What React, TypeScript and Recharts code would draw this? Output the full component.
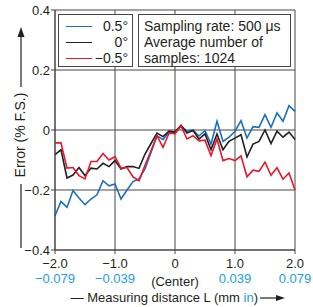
import React from 'react';
import { LineChart, Line, XAxis, YAxis, CartesianGrid } from 'recharts';

// Measuring distance L (mm), one point every 0.1 mm
const distance = [
  -2.0, -1.9, -1.8, -1.7, -1.6, -1.5, -1.4, -1.3, -1.2, -1.1,
  -1.0, -0.9, -0.8, -0.7, -0.6, -0.5, -0.4, -0.3, -0.2, -0.1,
  0.0, 0.1, 0.2, 0.3, 0.4, 0.5, 0.6, 0.7, 0.8, 0.9,
  1.0, 1.1, 1.2, 1.3, 1.4, 1.5, 1.6, 1.7, 1.8, 1.9, 2.0,
];

// Error (% F.S.) for each tilt angle
const tiltPlus = [
  -0.286, -0.238, -0.258, -0.202, -0.227, -0.249, -0.23, -0.216, -0.169, -0.186,
  -0.18, -0.23, -0.2, -0.172, -0.163, -0.13, -0.075, -0.019, -0.032, -0.006,
  -0.01, 0.014, -0.004, 0.0, -0.02, -0.002, -0.047, 0.029, -0.038, -0.024,
  -0.004, 0.031, -0.027, 0.011, 0.009, 0.051, 0.009, 0.057, 0.029, 0.081, 0.062,
];
const tiltZero = [
  -0.082, -0.066, -0.16, -0.15, -0.125, -0.152, -0.127, -0.13, -0.111, -0.122,
  -0.102, -0.13, -0.122, -0.122, -0.128, -0.08, -0.045, -0.01, -0.022, -0.004,
  -0.007, 0.016, -0.01, -0.002, -0.03, -0.013, -0.066, -0.013, -0.066, -0.038,
  -0.027, -0.016, -0.09, -0.047, -0.038, 0.0, -0.045, -0.004, -0.024, -0.007, -0.032,
];
const tiltMinus = [
  -0.043, -0.043, -0.127, -0.125, -0.152, -0.163, -0.105, -0.105, -0.078, -0.1,
  -0.089, -0.127, -0.125, -0.156, -0.169, -0.118, -0.069, -0.019, -0.058, -0.011,
  -0.012, 0.014, -0.03, -0.019, -0.036, -0.034, -0.086, -0.03, -0.102, -0.095,
  -0.102, -0.086, -0.156, -0.134, -0.138, -0.107, -0.151, -0.126, -0.164, -0.143, -0.2,
];

const mmTicks = [-2, -1, 0, 1, 2];
const mmLabels = ['\u22122.0', '\u22121.0', '0', '1.0', '2.0'];
const inchLabels = ['\u22120.079', '\u22120.039', '', '0.039', '0.079'];
const errorTicks = [-0.4, -0.2, 0, 0.2, 0.4];
const errorLabels = ['\u22120.4', '\u22120.2', '0', '0.2', '0.4'];

const seriesNames = ['0.5\u00b0', '0\u00b0', '\u22120.5\u00b0'];
const seriesColors = ['#1b6fc0', '#231f20', '#e8172d'];

const data = distance.map((x, i) => ({
  x,
  plus: tiltPlus[i],
  zero: tiltZero[i],
  minus: tiltMinus[i],
}));

const FONT = '"Liberation Sans", Arial, sans-serif';
const TEXT = '#231f20';
const GRID = '#4a4444';
const INCH = '#22a0e0';

function XTick(props: any) {
  const { x, y, payload } = props;
  const i = mmTicks.indexOf(payload.value);
  return (
    <g fontFamily={FONT} fontSize={13}>
      <text x={x} y={y + 12} textAnchor="middle" fill={TEXT}>{mmLabels[i]}</text>
      <text x={x} y={y + 27} textAnchor="middle" fill={INCH}>{inchLabels[i]}</text>
      {payload.value === 0 && (
        <text x={x} y={y + 30} textAnchor="middle" fill={TEXT}>(Center)</text>
      )}
    </g>
  );
}

function XTitle() {
  return (
    <g fontFamily={FONT} fontSize={13} fill={TEXT}>
      <text x={258} y={302} textAnchor="end">
        {'\u2014 Measuring distance L (mm '}
        <tspan fill={INCH}>in</tspan>
        {')'}
      </text>
      <line x1={260} y1={298} x2={278} y2={298} stroke={TEXT} strokeWidth={1.2} />
      <polygon points="285,298 276,295 276,301" fill={TEXT} />
    </g>
  );
}

function YTitle() {
  return (
    <g fontFamily={FONT} fill={TEXT}>
      <text
        x={20}
        y={135}
        fontSize={14}
        textAnchor="middle"
        dominantBaseline="central"
        transform="rotate(-90 20 135)"
      >
        Error (% F.S.)
      </text>
      <line x1={21} y1={248} x2={21} y2={184} stroke={TEXT} strokeWidth={1.2} />
      <line x1={21} y1={87} x2={21} y2={35} stroke={TEXT} strokeWidth={1.2} />
      <polygon points="21,27 17.5,37 24.5,37" fill={TEXT} />
    </g>
  );
}

const boxStyle: React.CSSProperties = {
  position: 'absolute',
  top: 14,
  height: 51,
  border: `1px solid ${GRID}`,
  background: '#fff',
  fontFamily: FONT,
  fontSize: 14,
  color: TEXT,
  lineHeight: '16px',
  boxSizing: 'content-box',
};

export default function App() {
  return (
    <div style={{ position: 'absolute', left: 0, top: 0, width: 313, height: 307, background: '#fff' }}>
      <LineChart
        width={313}
        height={307}
        data={data}
        margin={{ top: 10, right: 18, bottom: 0, left: 0 }}
      >
        <CartesianGrid stroke={GRID} strokeWidth={1} />
        <XAxis
          dataKey="x"
          type="number"
          domain={[-2, 2]}
          ticks={mmTicks}
          height={57}
          tickSize={4}
          stroke={GRID}
          tick={<XTick />}
          label={{ content: () => <XTitle /> }}
        />
        <YAxis
          type="number"
          domain={[-0.4, 0.4]}
          ticks={errorTicks}
          width={55}
          tickSize={4}
          tickMargin={1}
          stroke={GRID}
          tickFormatter={(v: number) => errorLabels[errorTicks.indexOf(v)] ?? String(v)}
          tick={{ fill: TEXT, fontSize: 13, fontFamily: FONT }}
          label={{ content: () => <YTitle /> }}
        />
        <Line dataKey="plus" stroke={seriesColors[0]} strokeWidth={1.6} dot={false} isAnimationActive={false} />
        <Line dataKey="zero" stroke={seriesColors[1]} strokeWidth={1.6} dot={false} isAnimationActive={false} />
        <Line dataKey="minus" stroke={seriesColors[2]} strokeWidth={1.6} dot={false} isAnimationActive={false} />
      </LineChart>

      <div style={{ ...boxStyle, left: 58, width: 73 }}>
        {seriesNames.map((name, i) => (
          <div key={name} style={{ position: 'relative', height: 16, marginTop: i === 0 ? 3 : 0 }}>
            <span
              style={{
                position: 'absolute',
                left: 7,
                top: 8,
                width: 26,
                height: 0,
                borderTop: `1.6px solid ${seriesColors[i]}`,
              }}
            />
            <span style={{ position: 'absolute', right: 4, top: 0 }}>{name}</span>
          </div>
        ))}
      </div>
      <div style={{ ...boxStyle, left: 138, width: 151 }}>
        <div style={{ padding: '3px 0 0 5px' }}>
          <div>Sampling rate: 500 {'\u03bc'}s</div>
          <div>Average number of</div>
          <div>samples: 1024</div>
        </div>
      </div>
    </div>
  );
}
